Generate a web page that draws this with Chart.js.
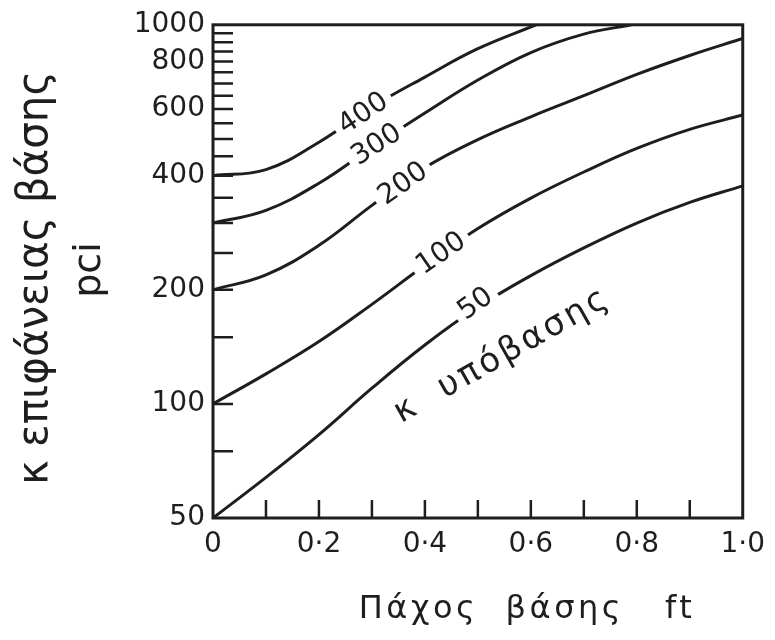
<!DOCTYPE html>
<html>
<head>
<meta charset="utf-8">
<script src="https://cdn.jsdelivr.net/npm/chart.js@4.4.1/dist/chart.umd.min.js"></script>
<style>
  body { margin: 0; background: #fff; }
  #wrap { width: 775px; height: 640px; }
</style>
</head>
<body>
<div id="wrap"><canvas id="chart" width="775" height="640"></canvas></div>
<script>
// base thickness (ft) and k on top of base (pci), one curve per subgrade k
const thickness = [0, 0.1, 0.2, 0.3, 0.4, 0.5, 0.6, 0.7, 0.8, 0.9, 1.0];
const k50  = [50, 64, 83, 110, 143, 180, 218, 258, 300, 340, 376];
const k100 = [100, 120, 146, 183, 232, 290, 349, 409, 472, 530, 578];
const k200 = [200, 219, 262, 334, 420, 498, 572, 650, 740, 830, 920];
const thickness300 = [0, 0.1, 0.2, 0.3, 0.4, 0.5, 0.6, 0.7, 0.79];
const k300 = [300, 324, 382, 475, 585, 715, 845, 945, 1000];
const thickness400 = [0, 0.1, 0.2, 0.3, 0.4, 0.5, 0.61];
const k400 = [400, 415, 490, 607, 728, 865, 1000];

const subgradeK = ['50', '100', '200', '300', '400'];
// where each curve label sits (thickness, k)
const labelX = [0.495, 0.43, 0.358, 0.308, 0.283];
const labelK = [184, 250, 382, 484, 585];

const yTicks = [50, 75, 100, 150, 200, 250, 300, 350, 400, 450, 500, 550, 600,
                650, 700, 750, 800, 850, 900, 950, 1000];
const yLabels = [50, 100, 200, 400, 600, 800, 1000];

const INK = '#1e1e1e';
const FONT = '"DejaVu Sans", sans-serif';

function pts(xs, ys) {
  return xs.map((x, i) => ({ x: x, y: ys[i] }));
}

const series = [
  pts(thickness, k50),
  pts(thickness, k100),
  pts(thickness, k200),
  pts(thickness300, k300),
  pts(thickness400, k400)
];

// frame, inward ticks, curve labels and axis titles
const drawing = {
  id: 'drawing',
  afterDatasetsDraw(chart) {
    const ctx = chart.ctx;
    const xs = chart.scales.x, ys = chart.scales.y;
    ctx.save();
    ctx.font = '28px ' + FONT;
    ctx.textAlign = 'center';
    ctx.textBaseline = 'middle';
    subgradeK.forEach((t, i) => {
      const px = xs.getPixelForValue(labelX[i]);
      const py = ys.getPixelForValue(labelK[i]);
      // angle from the neighbouring curve points
      const d = series[i];
      let j = 0;
      while (j < d.length - 2 && d[j + 1].x <= labelX[i]) j++;
      const ax = xs.getPixelForValue(d[j].x), ay = ys.getPixelForValue(d[j].y);
      const bx = xs.getPixelForValue(d[j + 1].x), by = ys.getPixelForValue(d[j + 1].y);
      const ang = Math.atan2(by - ay, bx - ax);
      const w = ctx.measureText(t).width;
      ctx.save();
      ctx.translate(px, py);
      ctx.rotate(ang);
      ctx.fillStyle = '#fff';
      ctx.fillRect(-w / 2 - 6, -14, w + 12, 28);
      ctx.fillStyle = INK;
      ctx.fillText(t, 0, 1);
      ctx.restore();
    });

    // "k υπόβασης" note
    ctx.save();
    ctx.translate(xs.getPixelForValue(0.546), ys.getPixelForValue(134));
    ctx.rotate(-29.5 * Math.PI / 180);
    ctx.font = '34px ' + FONT;
    ctx.letterSpacing = '3px';
    ctx.fillStyle = INK;
    ctx.fillText('κ  υπόβασης', 0, 0);
    ctx.restore();
    ctx.restore();
  },
  afterDraw(chart) {
    const ctx = chart.ctx;
    const a = chart.chartArea;
    const xs = chart.scales.x, ys = chart.scales.y;
    ctx.save();
    ctx.strokeStyle = INK;
    ctx.lineWidth = 3;
    ctx.strokeRect(a.left, a.top, a.right - a.left, a.bottom - a.top);
    ctx.lineWidth = 2.5;
    ctx.beginPath();
    xs.ticks.forEach(t => {
      if (t.value <= 0 || t.value >= 1) return;
      const x = xs.getPixelForValue(t.value);
      ctx.moveTo(x, a.bottom);
      ctx.lineTo(x, a.bottom - 18);
    });
    ys.ticks.forEach(t => {
      if (t.value <= 50 || t.value >= 1000) return;
      const y = ys.getPixelForValue(t.value);
      ctx.moveTo(a.left, y);
      ctx.lineTo(a.left + 20, y);
    });
    ctx.stroke();

    ctx.fillStyle = INK;
    // y title
    ctx.save();
    ctx.translate(47, 278);
    ctx.rotate(-Math.PI / 2);
    ctx.textAlign = 'center';
    ctx.textBaseline = 'alphabetic';
    ctx.font = '42px ' + FONT;
    ctx.fillText('κ επιφάνειας βάσης', 0, 0);
    ctx.font = '38px ' + FONT;
    ctx.fillText('pci', 8, 53);
    ctx.restore();
    // x title
    ctx.textAlign = 'center';
    ctx.textBaseline = 'alphabetic';
    ctx.font = '32px ' + FONT;
    ctx.letterSpacing = '3.5px';
    ctx.fillText('Πάχος  βάσης   ft', 527, 618);
    ctx.restore();
  }
};

new Chart(document.getElementById('chart'), {
  type: 'line',
  data: {
    datasets: series.map((d, i) => ({
      label: 'k = ' + subgradeK[i],
      data: d,
      borderColor: INK,
      borderWidth: 3,
      pointRadius: 0,
      fill: false,
      tension: 0.4
    }))
  },
  options: {
    responsive: false,
    animation: false,
    devicePixelRatio: 1,
    layout: { padding: { top: 20, right: 27, left: 0, bottom: 0 } },
    plugins: { legend: { display: false }, tooltip: { enabled: false } },
    scales: {
      x: {
        type: 'linear',
        min: 0,
        max: 1,
        grid: { display: false, drawTicks: false },
        border: { display: false },
        afterFit(scale) { scale.height = 122; },
        ticks: {
          stepSize: 0.1,
          autoSkip: false,
          maxRotation: 0,
          padding: 10,
          color: INK,
          font: { family: FONT, size: 28 },
          callback(v) {
            const n = Math.round(v * 10);
            if (n % 2) return '';
            return n === 0 ? '0' : (n / 10).toFixed(1).replace('.', '·');
          }
        }
      },
      y: {
        type: 'logarithmic',
        min: 50,
        max: 1000,
        grid: { display: false, drawTicks: false },
        border: { display: false },
        afterFit(scale) { scale.width = 213; },
        afterBuildTicks(scale) {
          scale.ticks = yTicks.map(v => ({ value: v }));
        },
        ticks: {
          autoSkip: false,
          padding: 8,
          color: INK,
          font: { family: FONT, size: 28 },
          callback(v) {
            return yLabels.includes(v) ? String(v) : '';
          }
        }
      }
    }
  },
  plugins: [drawing]
});
</script>
</body>
</html>
